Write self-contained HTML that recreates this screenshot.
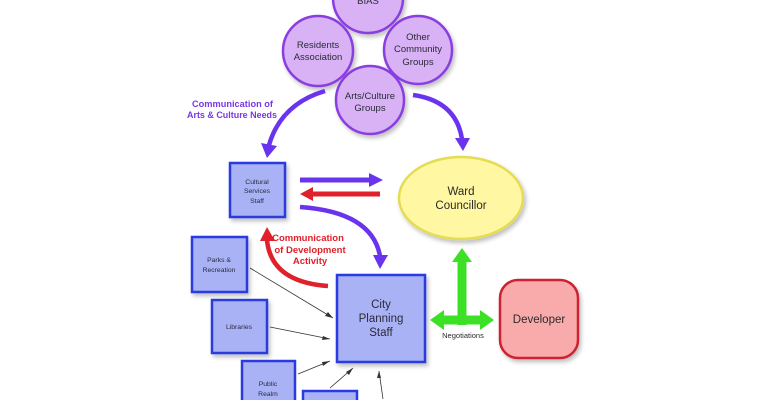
<!DOCTYPE html>
<html><head><meta charset="utf-8"><style>
html,body{margin:0;padding:0;background:#fff;width:770px;height:400px;overflow:hidden;}
svg{display:block;overflow:hidden;}
text{font-family:"Liberation Sans",sans-serif;}
</style></head><body>
<svg width="770" height="400" viewBox="0 0 770 400" xmlns="http://www.w3.org/2000/svg">
<defs>
<filter id="sh" x="-20%" y="-20%" width="150%" height="150%"><feGaussianBlur in="SourceAlpha" stdDeviation="2"/><feOffset dx="2" dy="3"/><feComponentTransfer><feFuncA type="linear" slope="0.25"/></feComponentTransfer><feMerge><feMergeNode/><feMergeNode in="SourceGraphic"/></feMerge></filter>
</defs>
<rect width="770" height="400" fill="#fff"/>

<!-- circles -->
<g fill="#d8b2f4" stroke="#8a3ee0" stroke-width="2.5" filter="url(#sh)">
<circle cx="368" cy="-2" r="35"/>
<circle cx="318" cy="51" r="35"/>
<circle cx="418" cy="50" r="34"/>
<circle cx="370" cy="100" r="34"/>
</g>
<g font-size="9.5" fill="#2a2a3a" text-anchor="middle">
<text x="368" y="4">BIAS</text>
<text x="318" y="48">Residents</text>
<text x="318" y="60">Association</text>
<text x="418" y="40">Other</text>
<text x="418" y="52">Community</text>
<text x="418" y="65">Groups</text>
<text x="370" y="99">Arts/Culture</text>
<text x="370" y="111">Groups</text>
</g>

<!-- purple label -->
<g font-size="9" font-weight="bold" fill="#7a36e6" text-anchor="end">
<text x="273" y="107" textLength="81" lengthAdjust="spacingAndGlyphs">Communication of</text>
<text x="277" y="118" textLength="90" lengthAdjust="spacingAndGlyphs">Arts &amp; Culture Needs</text>
</g>

<!-- curved purple arrows -->
<g fill="none" stroke="#6a34ee" stroke-width="4.5" stroke-linecap="butt">
<path d="M325 91 Q281 104 269 145"/>
<path d="M413 95 Q456 101 462 139"/>
<path d="M300 207 Q372 212 380 256"/>
</g>
<g fill="#6a34ee">
<polygon points="261,143 277,146 267,158"/>
<polygon points="455,138 470,138 463,151"/>
<polygon points="373,255 388,255 380,269"/>
<rect x="300" y="177.5" width="70" height="5"/>
<polygon points="369,173 383,180 369,187"/>
</g>

<!-- red arrows -->
<g fill="#e0202a">
<rect x="312" y="191.5" width="68" height="5"/>
<polygon points="313,187 300,194 313,201"/>
<polygon points="260,241 275,241 267,227"/>
</g>
<path d="M328 286 Q271 282 267 240" fill="none" stroke="#e0202a" stroke-width="4.5"/>
<g font-size="9.5" font-weight="bold" fill="#e0202a" text-anchor="middle">
<text x="308" y="241">Communication</text>
<text x="310" y="253">of Development</text>
<text x="310" y="264">Activity</text>
</g>

<!-- Ward Councillor -->
<ellipse cx="461" cy="198" rx="62" ry="41" fill="#fff7a2" stroke="#e4dc52" stroke-width="2.5" filter="url(#sh)"/>
<g font-size="11.5" fill="#2a2a2a" text-anchor="middle">
<text x="461" y="195">Ward</text>
<text x="461" y="209">Councillor</text>
</g>

<!-- boxes -->
<g fill="#aab2f6" stroke="#2b3be0" stroke-width="2.5" filter="url(#sh)">
<rect x="230" y="163" width="55" height="54"/>
<rect x="192" y="237" width="55" height="55"/>
<rect x="212" y="300" width="55" height="53"/>
<rect x="337" y="275" width="88" height="87"/>
</g>
<!-- boxes cut off at bottom -->
<rect x="242" y="361" width="53" height="39" fill="#aab2f6"/>
<path d="M242 400 V361 H295 V400" fill="none" stroke="#2b3be0" stroke-width="2.5"/>
<rect x="303" y="391" width="54" height="9" fill="#aab2f6"/>
<path d="M303 400 V391 H357 V400" fill="none" stroke="#2b3be0" stroke-width="2.5"/>

<g font-size="6.8" fill="#2a2a3a" text-anchor="middle">
<text x="257" y="184">Cultural</text>
<text x="257" y="193">Services</text>
<text x="257" y="203">Staff</text>
<text x="219" y="262">Parks &amp;</text>
<text x="219" y="272">Recreation</text>
<text x="239" y="329">Libraries</text>
<text x="268" y="386">Public</text>
<text x="268" y="396">Realm</text>
</g>
<g font-size="11.5" fill="#2a2a3a" text-anchor="middle">
<text x="381" y="308">City</text>
<text x="381" y="322">Planning</text>
<text x="381" y="336">Staff</text>
</g>

<!-- thin arrows -->
<g stroke="#333" stroke-width="0.8" fill="none">
<line x1="250" y1="268" x2="333" y2="318"/>
<line x1="270" y1="327" x2="330" y2="339"/>
<line x1="298" y1="374" x2="330" y2="361"/>
<line x1="330" y1="388" x2="353" y2="368"/>
<line x1="383" y1="399" x2="379" y2="371"/>
</g>
<g fill="#333">
<polygon points="333,318 325,316 328,312"/>
<polygon points="330,339 322,340 323,336"/>
<polygon points="330,361 323,366 322,362"/>
<polygon points="353,368 349,375 346,372"/>
<polygon points="379,371 381,378 377,378"/>
</g>

<!-- green arrows -->
<g fill="#3ce024">
<rect x="457.5" y="261" width="9" height="64"/>
<polygon points="452,262 472,262 462,248"/>
<rect x="443" y="315.5" width="38" height="9"/>
<polygon points="444,310 444,330 430,320"/>
<polygon points="480,310 480,330 494,320"/>
</g>
<text x="463" y="338" font-size="7.5" fill="#2a2a2a" text-anchor="middle">Negotiations</text>

<!-- Developer -->
<rect x="500" y="280" width="78" height="78" rx="18" ry="18" fill="#f9abab" stroke="#cc2030" stroke-width="2.5" filter="url(#sh)"/>
<text x="539" y="323" font-size="11.5" fill="#2a2a2a" text-anchor="middle">Developer</text>
</svg>
</body></html>
